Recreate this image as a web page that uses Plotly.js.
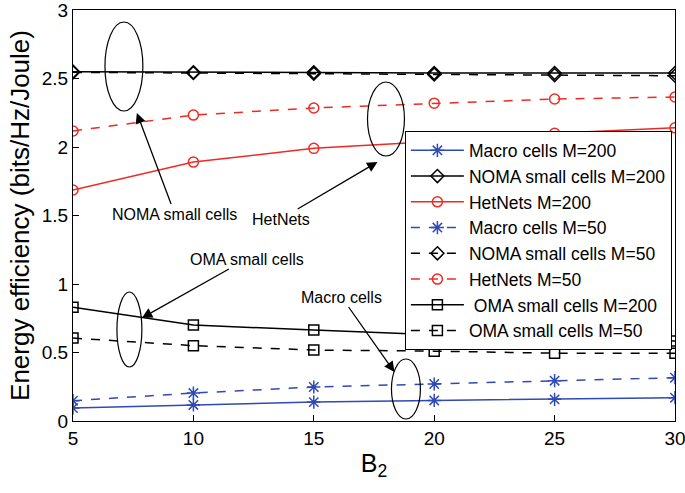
<!DOCTYPE html>
<html><head><meta charset="utf-8">
<script src="https://cdn.plot.ly/plotly-3.0.1.min.js"></script>
<style>body{margin:0;background:#fff}#c{width:685px;height:493px}</style>
</head><body><div id="c"></div>
<script>
const B2 = [5, 10, 15, 20, 25, 30];
const macro200 = [0.095, 0.117, 0.138, 0.150, 0.158, 0.170];
const noma200 = [2.55, 2.545, 2.545, 2.54, 2.54, 2.54];
const het200 = [1.686, 1.89, 1.99, 2.04, 2.10, 2.14];
const macro50 = [0.148, 0.204, 0.248, 0.270, 0.294, 0.316];
const noma50 = [2.545, 2.54, 2.535, 2.53, 2.525, 2.52];
const het50 = [2.117, 2.233, 2.285, 2.32, 2.35, 2.365];
const oma200 = [0.83, 0.70, 0.664, 0.63, 0.61, 0.584];
const oma50 = [0.605, 0.55, 0.518, 0.51, 0.495, 0.495];
const names = ["Macro cells M=200","NOMA small cells M=200","HetNets M=200","Macro cells M=50","NOMA small cells M=50","HetNets M=50"," OMA small cells M=200","OMA small cells M=50"];
const yTicks = [0, 0.5, 1, 1.5, 2, 2.5, 3];
const yTickText = ["0","0.5","1","1.5","2","2.5","3"];

const blue = "#2f49b5", red = "#ee2a24", black = "#000000";
function tr(y, name, color, dash, symbol){
  return {x: B2, y: y, name: name, type: "scatter", mode: "lines+markers",
    line: {color: color, width: 1.5, dash: dash},
    marker: {symbol: symbol, size: symbol==="asterisk-open"?11:10, color: color, line: {color: color, width: 1.5}}};
}
const data = [
  tr(macro200, names[0], blue, "solid", "asterisk-open"),
  tr(noma200, names[1], black, "solid", "diamond-open"),
  tr(het200, names[2], red, "solid", "circle-open"),
  tr(macro50, names[3], blue, "dash", "asterisk-open"),
  tr(noma50, names[4], black, "dash", "diamond-open"),
  tr(het50, names[5], red, "dash", "circle-open"),
  tr(oma200, names[6], black, "solid", "square-open"),
  tr(oma50, names[7], black, "dash", "square-open")
];

function px(x){return 5 + (x-73)/120.6*5;}
function py(y){return (421-y)/137;}
function ell(x0,y0,x1,y1){return {type:"circle", xref:"x", yref:"y", x0:px(x0), x1:px(x1), y0:py(y1), y1:py(y0), line:{color:"#000", width:1.2}};}
const shapes = [
  ell(105,22,143,111),
  ell(368,82,405,156),
  ell(117,292,142,367),
  ell(392,359,421,419)
];
function ann(text, tx, ty, hx, hy){
  return {text:text, x:px(hx), y:py(hy), xref:"x", yref:"y", ax:px(tx), ay:py(ty), axref:"x", ayref:"y",
    showarrow:true, arrowhead:2, arrowsize:1.6, arrowwidth:1.3, arrowcolor:"#000", standoff:0, font:{size:16}};
}
const annotations = [
  ann("NOMA small cells", 175, 214, 137, 113),
  ann("HetNets", 281, 219, 378, 162),
  ann("OMA small cells", 247, 259, 142, 318),
  ann("Macro cells", 342, 297, 395, 372)
];

const layout = {
  width: 685, height: 493,
  margin: {l:73, r:10, t:10, b:72},
  paper_bgcolor:"#fff", plot_bgcolor:"#fff",
  font: {family:"Liberation Sans, Arial, sans-serif", color:"#000", size:16},
  showlegend: true,
  legend: {x:0.551, y:0.705, xanchor:"left", yanchor:"top", bgcolor:"#fff", bordercolor:"#000", borderwidth:1.2,
    font:{size:17.5}, tracegroupgap:0, itemwidth:53},
  xaxis: {range:[5,30], tickvals:B2, ticks:"inside", ticklen:6, tickcolor:"#000", showgrid:false, zeroline:false,
    showline:true, mirror:true, linecolor:"#000", linewidth:1, tickfont:{size:19}, ticklabeloverflow:"allow",
    title:{text:"B<sub>2</sub>", font:{size:25}, standoff:6}},
  yaxis: {range:[0,3], tickvals:yTicks, ticktext:yTickText, ticks:"inside", ticklen:6, tickcolor:"#000",
    showgrid:false, zeroline:false, showline:true, mirror:true, linecolor:"#000", linewidth:1, tickfont:{size:19}, ticklabeloverflow:"allow",
    title:{text:"Energy efficiency (bits/Hz/Joule)", font:{size:26}, standoff:4}},
  shapes: shapes,
  annotations: annotations
};
Plotly.newPlot("c", data, layout, {displayModeBar:false, staticPlot:true});
</script></body></html>
